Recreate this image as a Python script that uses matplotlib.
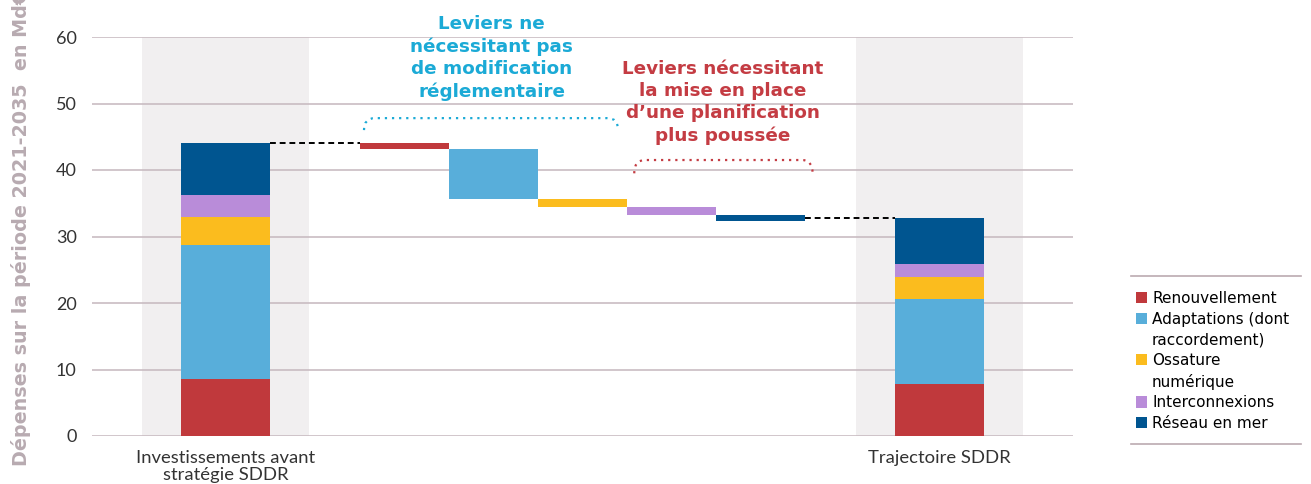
import matplotlib
matplotlib.use("Agg")
import matplotlib.pyplot as plt
from matplotlib.patches import Patch, PathPatch
from matplotlib.path import Path
from matplotlib.lines import Line2D

# Données (Md€, période 2021-2035)
postes = ["Renouvellement", "Adaptations (dont\nraccordement)", "Ossature\nnumérique",
          "Interconnexions", "Réseau en mer"]
couleurs = ["#C0393C", "#58AEDA", "#FBBC1E", "#B98CD9", "#005590"]
avant_sddr = [8.6, 20.1, 4.2, 3.3, 7.8]
trajectoire_sddr = [7.8, 12.8, 3.3, 2.0, 6.9]
baisses = [0.9, 7.4, 1.2, 1.2, 0.9]
etiquettes_x = ["Investissements avant\nstratégie SDDR", "Trajectoire SDDR"]

pos_avant = 0
pos_leviers = [2, 3, 4, 5, 6]
pos_traj = 8

fig = plt.figure(figsize=(13.11, 4.84), dpi=100)
ax = fig.add_axes([92 / 1311, 1 - 436 / 484, (1073 - 92) / 1311, (436 - 37) / 484])
ax.set_xlim(-1.5, 9.5)
ax.set_ylim(0, 60)

# fonds gris des deux barres totales
ax.bar([pos_avant, pos_traj], [60, 60], width=1.87, color="#F1EFF0", zorder=0)

# barres empilées
bas = 0
bas2 = 0
for v1, v2, c in zip(avant_sddr, trajectoire_sddr, couleurs):
    ax.bar(pos_avant, v1, bottom=bas, width=1.0, color=c, zorder=3)
    ax.bar(pos_traj, v2, bottom=bas2, width=1.0, color=c, zorder=3)
    bas += v1
    bas2 += v2
total_avant = bas
total_traj = bas2

# cascade
niveau = total_avant
for p, b, c in zip(pos_leviers, baisses, couleurs):
    ax.bar(p, b, bottom=niveau - b, width=1.0, color=c, zorder=3)
    niveau -= b

ax.plot([pos_avant + 0.5, pos_leviers[0] - 0.5], [total_avant, total_avant],
        color="black", ls=(0, (3, 2)), lw=1.4, zorder=4)
ax.plot([pos_leviers[-1] + 0.5, pos_traj - 0.5], [total_traj, total_traj],
        color="black", ls=(0, (3, 2)), lw=1.4, zorder=4)

# axes
for s in ax.spines.values():
    s.set_visible(False)
ax.yaxis.grid(True, color="#C9BCC2", lw=1.2, zorder=1)
ax.set_axisbelow(True)
ax.set_yticks(range(0, 61, 10))
ax.set_xticks([pos_avant, pos_traj])
ax.set_xticklabels(etiquettes_x, fontfamily="Lato", fontsize=13.3, color="#333333",
                   linespacing=1.1)
ax.tick_params(axis="y", length=0, pad=11, labelsize=13, labelcolor="#333333")
ax.tick_params(axis="x", length=0, pad=10)
for t in ax.get_yticklabels():
    t.set_fontfamily("Lato")


def accolade(x0, x1, y_bout, y_haut, couleur):
    r = 0.12
    verts = [(x0, y_bout), (x0, y_haut), (x0 + r, y_haut),
             (x1 - r, y_haut),
             (x1, y_haut), (x1, y_bout)]
    codes = [Path.MOVETO, Path.CURVE3, Path.CURVE3, Path.LINETO, Path.CURVE3, Path.CURVE3]
    ax.add_patch(PathPatch(Path(verts, codes), fill=False, edgecolor=couleur,
                           ls=(0, (1, 2.2)), lw=1.6, clip_on=False, zorder=5))


accolade(1.55, 4.40, 46.0, 47.8, "#1BAAD6")
accolade(4.58, 6.58, 39.5, 41.5, "#C43C43")

ax.text(2.98, 56.8, "Leviers ne\nnécessitant pas\nde modification\nréglementaire",
        ha="center", va="center", fontsize=13.2, fontweight="bold", color="#1BAAD6",
        linespacing=1.3, clip_on=False)
ax.text(5.57, 50.2, "Leviers nécessitant\nla mise en place\nd’une planification\nplus poussée",
        ha="center", va="center", fontsize=13.2, fontweight="bold", color="#C43C43",
        linespacing=1.3, clip_on=False)

fig.text(21 / 1311, 1 - 466 / 484, "Dépenses sur la période 2021-2035  en Md€",
         rotation=90, ha="center", va="bottom", fontsize=13.8, fontweight="bold",
         color="#B8ABB1")

# légende : une ligne par entrée, le carré sur la première ligne
poignees = []
libelles = []
for nom, c in zip(postes, couleurs):
    lignes = nom.split("\n")
    for i, l in enumerate(lignes):
        if i == 0:
            poignees.append(Patch(facecolor=c, edgecolor="none"))
        else:
            poignees.append(Patch(facecolor="none", edgecolor="none"))
        libelles.append(l)
fig.legend(poignees, libelles, loc="upper left",
           bbox_to_anchor=(1136 / 1311, 1 - 291 / 484), frameon=False,
           fontsize=11, handlelength=0.75, handleheight=0.75, handletextpad=0.3,
           labelspacing=0.37, borderpad=0, borderaxespad=0)
for yy in (276, 444):
    fig.add_artist(Line2D([1131 / 1311, 1301 / 1311], [1 - yy / 484, 1 - yy / 484],
                          color="#BBAAB0", lw=1.2))

fig.savefig("out.png", dpi=100)
